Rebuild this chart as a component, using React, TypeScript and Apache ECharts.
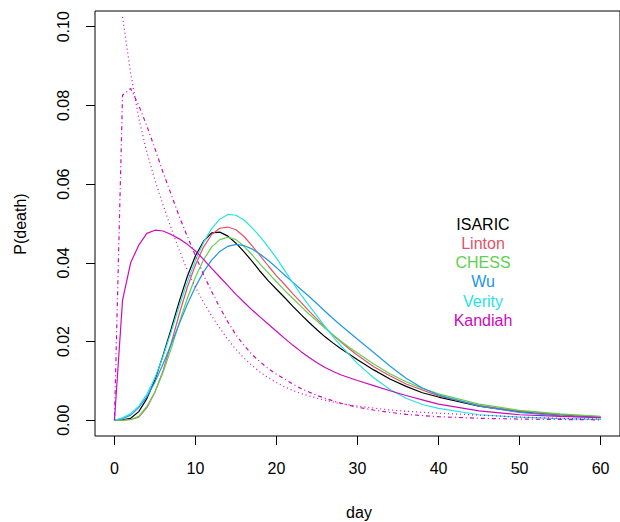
import { useEffect, useRef } from "react";
import * as echarts from "echarts";

const DAYS = [0, 1, 2, 3, 4, 5, 6, 7, 8, 9, 10, 11, 12, 13, 14, 15, 16, 17, 18, 19, 20, 21, 22, 23, 24, 25, 26, 27, 28, 29, 30, 32, 34, 36, 38, 40, 45, 50, 55, 60];
const DAYS_FROM1 = DAYS.slice(1);

const X_TICKS = [0, 10, 20, 30, 40, 50, 60];
const Y_TICKS = [0, 0.02, 0.04, 0.06, 0.08, 0.1];

const ISARIC = [0, 0.0001, 0.0005, 0.0022, 0.0055, 0.0103, 0.0165, 0.0232, 0.0302, 0.0366, 0.0418, 0.0455, 0.0476, 0.0478, 0.0468, 0.045, 0.0428, 0.0404, 0.0378, 0.0354, 0.0333, 0.0312, 0.029, 0.0269, 0.0249, 0.023, 0.0212, 0.0196, 0.0181, 0.0168, 0.0154, 0.0128, 0.0105, 0.0086, 0.007, 0.0059, 0.0036, 0.0022, 0.0014, 0.0008];
const LINTON = [0, 0, 0.0002, 0.0008, 0.0032, 0.0071, 0.0126, 0.0195, 0.027, 0.0338, 0.0395, 0.044, 0.0472, 0.0488, 0.0491, 0.0484, 0.0467, 0.0443, 0.0418, 0.0392, 0.0367, 0.0345, 0.0322, 0.03, 0.0278, 0.0257, 0.0236, 0.0216, 0.0198, 0.0181, 0.0165, 0.0136, 0.0113, 0.0092, 0.0077, 0.0062, 0.0038, 0.0023, 0.0014, 0.0009];
const CHESS = [0, 0, 0.0002, 0.001, 0.0035, 0.0072, 0.0122, 0.0182, 0.0248, 0.031, 0.0364, 0.0408, 0.044, 0.0459, 0.0465, 0.0459, 0.0442, 0.042, 0.0396, 0.0374, 0.0352, 0.033, 0.031, 0.029, 0.027, 0.0252, 0.0234, 0.0217, 0.02, 0.0185, 0.0171, 0.0143, 0.0118, 0.0098, 0.0081, 0.0067, 0.0041, 0.0025, 0.0016, 0.001];
const WU = [0, 0.0004, 0.0013, 0.0032, 0.006, 0.0097, 0.0143, 0.0193, 0.0245, 0.0295, 0.0339, 0.0377, 0.0407, 0.0429, 0.0442, 0.0447, 0.0444, 0.0435, 0.0422, 0.0406, 0.0388, 0.0369, 0.0351, 0.0333, 0.0315, 0.0296, 0.0277, 0.0258, 0.024, 0.0223, 0.0206, 0.0172, 0.0138, 0.0107, 0.0082, 0.0064, 0.0036, 0.002, 0.0011, 0.0006];
const VERITY = [0, 0.0006, 0.0017, 0.0036, 0.0066, 0.0108, 0.0162, 0.0225, 0.029, 0.0352, 0.0407, 0.0452, 0.0487, 0.0511, 0.0523, 0.0521, 0.0509, 0.0489, 0.0466, 0.044, 0.0412, 0.0381, 0.035, 0.032, 0.0292, 0.0265, 0.0238, 0.0212, 0.0188, 0.0166, 0.0144, 0.0108, 0.0078, 0.0056, 0.004, 0.003, 0.0014, 0.0008, 0.0004, 0.0002];
const KANDIAH = [0, 0.0305, 0.04, 0.0445, 0.0475, 0.0483, 0.0481, 0.0472, 0.0461, 0.0447, 0.043, 0.0409, 0.0386, 0.0364, 0.0342, 0.032, 0.03, 0.028, 0.0262, 0.0244, 0.0226, 0.0208, 0.0191, 0.0175, 0.016, 0.0146, 0.0134, 0.0124, 0.0115, 0.0108, 0.0101, 0.0088, 0.0075, 0.0063, 0.0052, 0.0041, 0.0024, 0.0014, 0.001, 0.0007];
const KANDIAH_DOTDASH = [0, 0.0826, 0.0843, 0.08, 0.0748, 0.069, 0.063, 0.0574, 0.0518, 0.0467, 0.0418, 0.037, 0.0327, 0.0287, 0.025, 0.0217, 0.019, 0.0167, 0.0148, 0.0131, 0.0117, 0.0105, 0.0092, 0.0081, 0.0072, 0.0063, 0.0056, 0.0049, 0.0043, 0.0038, 0.0033, 0.0026, 0.002, 0.0015, 0.0012, 0.0009, 0.0005, 0.0003, 0.0002, 0.0001];
const KANDIAH_DOTTED = [0.1025, 0.0882, 0.0768, 0.0681, 0.061, 0.0547, 0.0488, 0.0432, 0.0381, 0.0338, 0.03, 0.0265, 0.0234, 0.0205, 0.018, 0.0158, 0.0139, 0.0122, 0.0108, 0.0096, 0.0085, 0.0076, 0.0068, 0.0062, 0.0056, 0.0051, 0.0046, 0.0042, 0.0039, 0.0036, 0.0031, 0.0026, 0.0023, 0.002, 0.0018, 0.0013, 0.0008, 0.0005, 0.0003];

const LEGEND_NAMES = ["ISARIC", "Linton", "CHESS", "Wu", "Verity", "Kandiah"];
const COLORS = ["#000000", "#DF536B", "#61D04F", "#2297E6", "#28E2E5", "#CD0BBC"];

const FONT = "'Liberation Sans', Arial, Helvetica, sans-serif";

function pairs(days: number[], vals: number[]) {
  return vals.map((v, i) => [days[i], v]);
}

export default function App() {
  const ref = useRef<HTMLDivElement>(null);
  useEffect(() => {
    const chart = echarts.init(ref.current!, null, { renderer: "svg" });
    const lineSeries = (name: string, data: number[][], color: string, type: any) => ({
      name,
      type: "line",
      data,
      showSymbol: false,
      symbol: "none",
      silent: true,
      clip: true,
      lineStyle: { color, width: 1.2, type },
    });
    const series = [
      lineSeries("ISARIC", pairs(DAYS, ISARIC), COLORS[0], "solid"),
      lineSeries("Linton", pairs(DAYS, LINTON), COLORS[1], "solid"),
      lineSeries("CHESS", pairs(DAYS, CHESS), COLORS[2], "solid"),
      lineSeries("Wu", pairs(DAYS, WU), COLORS[3], "solid"),
      lineSeries("Verity", pairs(DAYS, VERITY), COLORS[4], "solid"),
      lineSeries("Kandiah", pairs(DAYS, KANDIAH), COLORS[5], "solid"),
      lineSeries("Kandiah dotdash", pairs(DAYS, KANDIAH_DOTDASH), COLORS[5], [1, 3, 4, 3]),
      lineSeries("Kandiah dotted", pairs(DAYS_FROM1, KANDIAH_DOTTED), COLORS[5], [1, 3]),
    ];
    const legendTexts = LEGEND_NAMES.map((n, i) => ({
      type: "text",
      x: 483,
      y: 224 + i * 19.3,
      style: {
        text: n,
        fill: COLORS[i],
        fontSize: 16,
        fontFamily: FONT,
        align: "center",
        verticalAlign: "middle",
      },
    }));
    chart.setOption({
      animation: false,
      backgroundColor: "#ffffff",
      grid: {
        left: 95,
        top: 11,
        width: 528,
        height: 425,
        show: true,
        borderColor: "#000",
        borderWidth: 1,
        backgroundColor: "transparent",
      },
      xAxis: {
        type: "value",
        min: -2.4,
        max: 62.4,
        axisLine: { show: false, onZero: false },
        splitLine: { show: false },
        axisTick: {
          show: true,
          customValues: X_TICKS,
          length: 9,
          lineStyle: { color: "#000", width: 1 },
        },
        axisLabel: {
          show: true,
          customValues: X_TICKS,
          margin: 24,
          fontSize: 16,
          color: "#000",
          fontFamily: FONT,
        },
      },
      yAxis: {
        type: "value",
        min: -0.004,
        max: 0.104,
        axisLine: { show: false, onZero: false },
        splitLine: { show: false },
        axisTick: {
          show: true,
          customValues: Y_TICKS,
          length: 9,
          lineStyle: { color: "#000", width: 1 },
        },
        axisLabel: {
          show: true,
          customValues: Y_TICKS,
          rotate: 90,
          margin: 24,
          fontSize: 16,
          color: "#000",
          fontFamily: FONT,
          formatter: (v: number) => v.toFixed(2),
        },
      },
      series,
      graphic: [
        ...legendTexts,
        {
          type: "text",
          x: 359,
          y: 512,
          style: { text: "day", fill: "#000", fontSize: 16, fontFamily: FONT, align: "center", verticalAlign: "middle" },
        },
        {
          type: "text",
          x: 20,
          y: 224,
          rotation: Math.PI / 2,
          style: { text: "P(death)", fill: "#000", fontSize: 16, fontFamily: FONT, align: "center", verticalAlign: "middle" },
        },
      ],
    });
    return () => chart.dispose();
  }, []);
  return (
    <div
      ref={ref}
      style={{ position: "fixed", left: 0, top: 0, width: 620, height: 522, background: "#fff" }}
    />
  );
}
